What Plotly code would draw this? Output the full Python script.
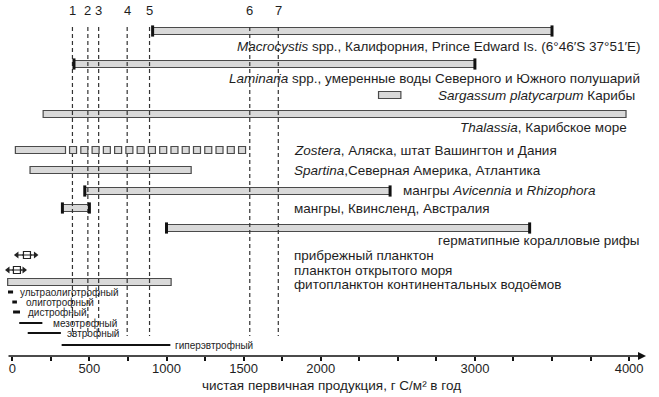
import numpy as np
import plotly.graph_objects as go

# ---------------- data ----------------
bar_names = [
    "<i>Macrocystis</i> spp., Калифорния, Prince Edward Is. (6°46′S 37°51′E)",
    "<i>Laminaria</i> spp., умеренные воды Северного и Южного полушарий",
    "<i>Sargassum platycarpum</i> Карибы",
    "<i>Thalassia</i>, Карибское море",
    "<i>Zostera</i>, Аляска, штат Вашингтон и Дания",
    "<i>Spartina</i>,Северная Америка, Атлантика",
    "мангры <i>Avicennia</i> и <i>Rhizophora</i>",
    "мангры, Квинсленд, Австралия",
    "герматипные коралловые рифы",
    "фитопланктон континентальных водоёмов",
]
bar_start = [910, 400, 2375, 200, 20, 115, 470, 325, 1000, -30]
bar_end = [3500, 3000, 2520, 3980, 345, 1160, 2450, 500, 3355, 1030]

zostera_extra = [370, 1510]   # dashed (uncertain) part of Zostera range

plankton_names = ["прибрежный планктон", "планктон открытого моря"]
plankton_low = [30, -28]
plankton_mid = [95, 30]
plankton_high = [150, 76]

trophic_names = ["ультраолиготрофный", "олиготрофный", "дистрофный",
                 "мезотрофный", "эвтрофный", "гиперэвтрофный"]
trophic_low = [-28, 0, 5, 45, 100, 320]
trophic_high = [5, 30, 50, 195, 315, 1025]

ref_values = [390, 490, 560, 745, 890, 1540, 1725]
ref_labels = ["1", "2", "3", "4", "5", "6", "7"]

tick_values = list(range(0, 4001, 250))
tick_labels = ["0", "500", "1000", "1500", "2000", "3000", "4000"]
x_title = "чистая первичная продукция, г С/м² в год"

# ---------------- layout / styling ----------------
W, H = 659, 397
AXIS_Y = 356
bar_rows = [31, 64, 95, 114, 150, 170, 191, 208, 228, 282]
bar_caps = [True, True, False, False, False, False, True, True, True, False]
# label placement: (anchor, pixel x, pixel y)
bar_label_pos = [("right", 642, 46), ("right", 642, 78), ("right", 637, 95),
                 ("right", 629, 127), ("left", 292, 150), ("left", 292, 170),
                 ("left", 401, 190), ("left", 292, 208), ("right", 642, 240),
                 ("left", 292, 284)]
plankton_rows = [255, 270]
plankton_label_y = [255, 270]
trophic_rows = [292, 302, 312, 323, 333, 345]
trophic_widths = [3, 3, 3, 2, 2, 2]
trophic_gap = [5, 7, 6, 9, 4, 3]

X0_PX = 12.3
PX_PER_UNIT = 0.1542
x_lo = -X0_PX / PX_PER_UNIT
x_hi = (W - X0_PX) / PX_PER_UNIT

def px2x(px):
    return (px - X0_PX) / PX_PER_UNIT

TXT = "#1e1e1e"
FILL = "#d9d9d9"
EDGE = "#4a4a4a"
FONT = "Liberation Sans, Arial, sans-serif"
LABEL_SIZE = 13.5

fig = go.Figure()

# reference dashed lines
for v in ref_values:
    fig.add_trace(go.Scatter(x=[v, v], y=[27, 336], mode="lines",
                             line=dict(color="#333333", width=1.2, dash="4px,3px"),
                             hoverinfo="skip", showlegend=False))

# range bars
fig.add_trace(go.Bar(
    y=bar_rows, base=bar_start,
    x=[e - s for s, e in zip(bar_start, bar_end)],
    orientation="h", width=7,
    marker=dict(color=FILL, line=dict(color=EDGE, width=1.2)),
    hoverinfo="skip", showlegend=False))

# end caps
cap_x, cap_y = [], []
for s, e, r, c in zip(bar_start, bar_end, bar_rows, bar_caps):
    if c:
        cap_x += [s, e]
        cap_y += [r, r]
fig.add_trace(go.Scatter(x=cap_x, y=cap_y, mode="markers",
                         marker=dict(symbol="line-ns", size=8,
                                     line=dict(color="#111111", width=3)),
                         hoverinfo="skip", showlegend=False))

# Zostera dashed (open squares) part
zx = np.linspace(zostera_extra[0] + 24, zostera_extra[1] - 20, 16)
fig.add_trace(go.Scatter(x=zx, y=[bar_rows[4]] * len(zx), mode="markers",
                         marker=dict(symbol="square", size=7, color=FILL,
                                     line=dict(color=EDGE, width=1.2)),
                         hoverinfo="skip", showlegend=False))

# plankton symbols
for lo, mid, hi, r in zip(plankton_low, plankton_mid, plankton_high, plankton_rows):
    fig.add_trace(go.Scatter(x=[lo, hi], y=[r, r], mode="lines",
                             line=dict(color="#222222", width=1.2),
                             hoverinfo="skip", showlegend=False))
    fig.add_trace(go.Scatter(x=[lo, hi], y=[r, r], mode="markers",
                             marker=dict(symbol=["triangle-left", "triangle-right"],
                                         size=6, color="#222222"),
                             hoverinfo="skip", showlegend=False))
    fig.add_trace(go.Scatter(x=[mid], y=[r], mode="markers",
                             marker=dict(symbol="square", size=7, color="white",
                                         line=dict(color="#222222", width=1.2)),
                             hoverinfo="skip", showlegend=False))
    fig.add_trace(go.Scatter(x=[mid], y=[r], mode="markers",
                             marker=dict(symbol="line-ew", size=7,
                                         line=dict(color="#222222", width=1)),
                             hoverinfo="skip", showlegend=False))

# trophic ranges
for lo, hi, r, w in zip(trophic_low, trophic_high, trophic_rows, trophic_widths):
    fig.add_trace(go.Scatter(x=[lo, hi], y=[r, r], mode="lines",
                             line=dict(color="#111111", width=w),
                             hoverinfo="skip", showlegend=False))

annotations = []
# numbers above dashed lines
for v, lab in zip(ref_values, ref_labels):
    annotations.append(dict(x=v, y=10, xref="x", yref="y", text=lab,
                            showarrow=False, font=dict(size=13, color=TXT, family=FONT)))
# bar labels
for name, (anc, px, py) in zip(bar_names, bar_label_pos):
    annotations.append(dict(x=px2x(px), y=py, xref="x", yref="y", text=name,
                            xanchor=anc, showarrow=False,
                            font=dict(size=LABEL_SIZE, color=TXT, family=FONT)))
for name, py in zip(plankton_names, plankton_label_y):
    annotations.append(dict(x=px2x(292), y=py, xref="x", yref="y", text=name,
                            xanchor="left", showarrow=False,
                            font=dict(size=LABEL_SIZE, color=TXT, family=FONT)))
for name, hi, r, g in zip(trophic_names, trophic_high, trophic_rows, trophic_gap):
    annotations.append(dict(x=hi, y=r, xref="x", yref="y", text=name,
                            xanchor="left", xshift=g, showarrow=False,
                            font=dict(size=10, color=TXT, family=FONT)))
# axis line with arrow
annotations.append(dict(x=px2x(646), y=AXIS_Y, ax=px2x(7), ay=AXIS_Y,
                        xref="x", yref="y", axref="x", ayref="y", text="",
                        showarrow=True, arrowhead=2, arrowsize=1, arrowwidth=1.6,
                        arrowcolor="#111111"))
# axis title
annotations.append(dict(x=px2x(331), y=(AXIS_Y - 385) / AXIS_Y, xref="x", yref="paper",
                        yanchor="middle", text=x_title, showarrow=False,
                        font=dict(size=13.5, color=TXT, family=FONT)))

ticktext = [str(v) if str(v) in tick_labels else "" for v in tick_values]

fig.update_layout(
    width=W, height=H,
    margin=dict(l=0, r=0, t=0, b=H - AXIS_Y),
    paper_bgcolor="white", plot_bgcolor="white",
    barmode="overlay",
    showlegend=False,
    annotations=annotations,
    xaxis=dict(range=[x_lo, x_hi], showgrid=False, zeroline=False, showline=False,
               tickmode="array", tickvals=tick_values, ticktext=ticktext,
               ticks="outside", ticklen=4, tickwidth=1.5, tickcolor="#111111",
               ticklabelstandoff=-4,
               tickfont=dict(size=13, color=TXT, family=FONT)),
    yaxis=dict(range=[AXIS_Y, 0], showgrid=False, zeroline=False, showline=False,
               showticklabels=False, ticks=""),
)

fig.write_html("out.html", config={"displayModeBar": False},
               post_script="document.body.style.margin='0';document.body.style.overflow='hidden';")
